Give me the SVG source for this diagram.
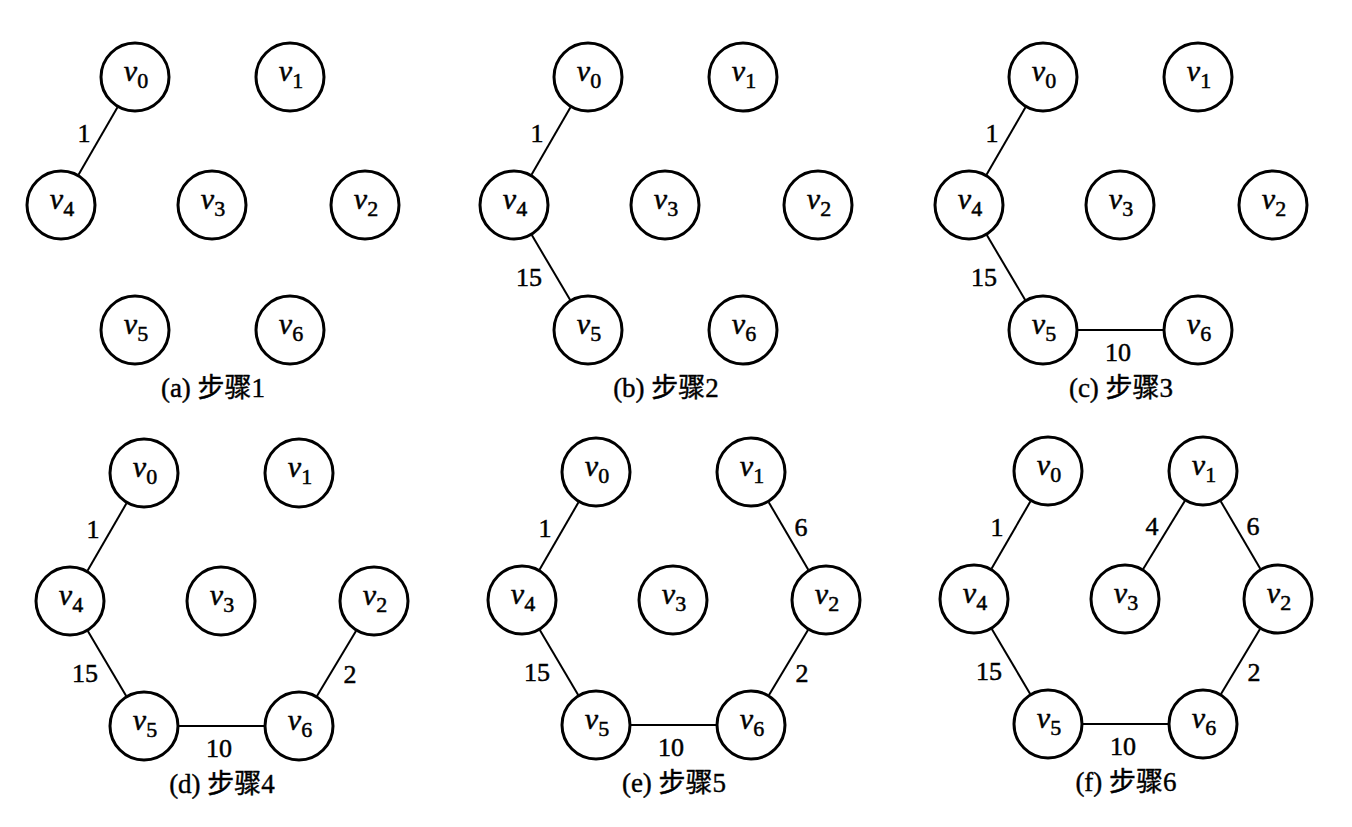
<svg xmlns="http://www.w3.org/2000/svg" width="1352" height="827" viewBox="0 0 1352 827">
<style>
.n circle{fill:#fff;stroke:#000;stroke-width:3}
.vl{font-family:"Liberation Serif","DejaVu Serif",serif;font-style:italic;font-size:30px;text-anchor:middle;fill:#000;stroke:#000;stroke-width:0.5}
.sub{font-style:normal;font-size:22px}
.e line{stroke:#000;stroke-width:2}
.w{font-family:"Liberation Serif","DejaVu Serif",serif;font-size:26px;text-anchor:middle;fill:#000;stroke:#000;stroke-width:0.5}
.cap{font-family:"Liberation Serif","Noto Sans CJK SC",serif;font-size:27px;text-anchor:middle;fill:#000;stroke:#000;stroke-width:0.4}
</style>
<rect width="1352" height="827" fill="#fff"/>

<!-- Panel a -->
<g id="panel-a" transform="translate(0,0)">
<g id="a-connectors" class="e">
<line x1="117.5" y1="107.3" x2="78.5" y2="174.7"/>
<text class="w" x="84" y="142">1</text>
</g>
<g id="a-v0" class="n"><circle cx="135" cy="77" r="34"/><text class="vl" x="136" y="81">v<tspan class="sub" dy="7">0</tspan></text></g>
<g id="a-v1" class="n"><circle cx="290" cy="77" r="34"/><text class="vl" x="291" y="81">v<tspan class="sub" dy="7">1</tspan></text></g>
<g id="a-v2" class="n"><circle cx="365" cy="205" r="34"/><text class="vl" x="366" y="209">v<tspan class="sub" dy="7">2</tspan></text></g>
<g id="a-v3" class="n"><circle cx="212" cy="205" r="34"/><text class="vl" x="213" y="209">v<tspan class="sub" dy="7">3</tspan></text></g>
<g id="a-v4" class="n"><circle cx="61" cy="205" r="34"/><text class="vl" x="62" y="209">v<tspan class="sub" dy="7">4</tspan></text></g>
<g id="a-v5" class="n"><circle cx="135" cy="330" r="34"/><text class="vl" x="136" y="334">v<tspan class="sub" dy="7">5</tspan></text></g>
<g id="a-v6" class="n"><circle cx="290" cy="330" r="34"/><text class="vl" x="291" y="334">v<tspan class="sub" dy="7">6</tspan></text></g>
<text class="cap" x="213" y="397">(a) 步骤1</text>
</g>

<!-- Panel b -->
<g id="panel-b" transform="translate(453,0)">
<g id="b-connectors" class="e">
<line x1="117.5" y1="107.3" x2="78.5" y2="174.7"/>
<line x1="78.8" y1="235.1" x2="117.2" y2="299.9"/>
<text class="w" x="84" y="142">1</text>
<text class="w" x="76" y="286">15</text>
</g>
<g id="b-v0" class="n"><circle cx="135" cy="77" r="34"/><text class="vl" x="136" y="81">v<tspan class="sub" dy="7">0</tspan></text></g>
<g id="b-v1" class="n"><circle cx="290" cy="77" r="34"/><text class="vl" x="291" y="81">v<tspan class="sub" dy="7">1</tspan></text></g>
<g id="b-v2" class="n"><circle cx="365" cy="205" r="34"/><text class="vl" x="366" y="209">v<tspan class="sub" dy="7">2</tspan></text></g>
<g id="b-v3" class="n"><circle cx="212" cy="205" r="34"/><text class="vl" x="213" y="209">v<tspan class="sub" dy="7">3</tspan></text></g>
<g id="b-v4" class="n"><circle cx="61" cy="205" r="34"/><text class="vl" x="62" y="209">v<tspan class="sub" dy="7">4</tspan></text></g>
<g id="b-v5" class="n"><circle cx="135" cy="330" r="34"/><text class="vl" x="136" y="334">v<tspan class="sub" dy="7">5</tspan></text></g>
<g id="b-v6" class="n"><circle cx="290" cy="330" r="34"/><text class="vl" x="291" y="334">v<tspan class="sub" dy="7">6</tspan></text></g>
<text class="cap" x="213" y="397">(b) 步骤2</text>
</g>

<!-- Panel c -->
<g id="panel-c" transform="translate(908,0)">
<g id="c-connectors" class="e">
<line x1="117.5" y1="107.3" x2="78.5" y2="174.7"/>
<line x1="78.8" y1="235.1" x2="117.2" y2="299.9"/>
<line x1="169" y1="330" x2="256" y2="330"/>
<text class="w" x="84" y="142">1</text>
<text class="w" x="76" y="286">15</text>
<text class="w" x="210" y="361">10</text>
</g>
<g id="c-v0" class="n"><circle cx="135" cy="77" r="34"/><text class="vl" x="136" y="81">v<tspan class="sub" dy="7">0</tspan></text></g>
<g id="c-v1" class="n"><circle cx="290" cy="77" r="34"/><text class="vl" x="291" y="81">v<tspan class="sub" dy="7">1</tspan></text></g>
<g id="c-v2" class="n"><circle cx="365" cy="205" r="34"/><text class="vl" x="366" y="209">v<tspan class="sub" dy="7">2</tspan></text></g>
<g id="c-v3" class="n"><circle cx="212" cy="205" r="34"/><text class="vl" x="213" y="209">v<tspan class="sub" dy="7">3</tspan></text></g>
<g id="c-v4" class="n"><circle cx="61" cy="205" r="34"/><text class="vl" x="62" y="209">v<tspan class="sub" dy="7">4</tspan></text></g>
<g id="c-v5" class="n"><circle cx="135" cy="330" r="34"/><text class="vl" x="136" y="334">v<tspan class="sub" dy="7">5</tspan></text></g>
<g id="c-v6" class="n"><circle cx="290" cy="330" r="34"/><text class="vl" x="291" y="334">v<tspan class="sub" dy="7">6</tspan></text></g>
<text class="cap" x="213" y="397">(c) 步骤3</text>
</g>

<!-- Panel d -->
<g id="panel-d" transform="translate(9,396)">
<g id="d-connectors" class="e">
<line x1="117.5" y1="107.3" x2="78.5" y2="174.7"/>
<line x1="78.8" y1="235.1" x2="117.2" y2="299.9"/>
<line x1="169" y1="330" x2="256" y2="330"/>
<line x1="308" y1="300" x2="347" y2="235"/>
<text class="w" x="84" y="142">1</text>
<text class="w" x="76" y="286">15</text>
<text class="w" x="210" y="361">10</text>
<text class="w" x="341" y="287">2</text>
</g>
<g id="d-v0" class="n"><circle cx="135" cy="77" r="34"/><text class="vl" x="136" y="81">v<tspan class="sub" dy="7">0</tspan></text></g>
<g id="d-v1" class="n"><circle cx="290" cy="77" r="34"/><text class="vl" x="291" y="81">v<tspan class="sub" dy="7">1</tspan></text></g>
<g id="d-v2" class="n"><circle cx="365" cy="205" r="34"/><text class="vl" x="366" y="209">v<tspan class="sub" dy="7">2</tspan></text></g>
<g id="d-v3" class="n"><circle cx="212" cy="205" r="34"/><text class="vl" x="213" y="209">v<tspan class="sub" dy="7">3</tspan></text></g>
<g id="d-v4" class="n"><circle cx="61" cy="205" r="34"/><text class="vl" x="62" y="209">v<tspan class="sub" dy="7">4</tspan></text></g>
<g id="d-v5" class="n"><circle cx="135" cy="330" r="34"/><text class="vl" x="136" y="334">v<tspan class="sub" dy="7">5</tspan></text></g>
<g id="d-v6" class="n"><circle cx="290" cy="330" r="34"/><text class="vl" x="291" y="334">v<tspan class="sub" dy="7">6</tspan></text></g>
<text class="cap" x="213" y="397">(d) 步骤4</text>
</g>

<!-- Panel e -->
<g id="panel-e" transform="translate(461,395)">
<g id="e-connectors" class="e">
<line x1="117.5" y1="107.3" x2="78.5" y2="174.7"/>
<line x1="78.8" y1="235.1" x2="117.2" y2="299.9"/>
<line x1="169" y1="330" x2="256" y2="330"/>
<line x1="308" y1="300" x2="347" y2="235"/>
<line x1="347.3" y1="174.8" x2="307.7" y2="107.2"/>
<text class="w" x="84" y="142">1</text>
<text class="w" x="76" y="286">15</text>
<text class="w" x="210" y="361">10</text>
<text class="w" x="341" y="287">2</text>
<text class="w" x="340" y="141">6</text>
</g>
<g id="e-v0" class="n"><circle cx="135" cy="77" r="34"/><text class="vl" x="136" y="81">v<tspan class="sub" dy="7">0</tspan></text></g>
<g id="e-v1" class="n"><circle cx="290" cy="77" r="34"/><text class="vl" x="291" y="81">v<tspan class="sub" dy="7">1</tspan></text></g>
<g id="e-v2" class="n"><circle cx="365" cy="205" r="34"/><text class="vl" x="366" y="209">v<tspan class="sub" dy="7">2</tspan></text></g>
<g id="e-v3" class="n"><circle cx="212" cy="205" r="34"/><text class="vl" x="213" y="209">v<tspan class="sub" dy="7">3</tspan></text></g>
<g id="e-v4" class="n"><circle cx="61" cy="205" r="34"/><text class="vl" x="62" y="209">v<tspan class="sub" dy="7">4</tspan></text></g>
<g id="e-v5" class="n"><circle cx="135" cy="330" r="34"/><text class="vl" x="136" y="334">v<tspan class="sub" dy="7">5</tspan></text></g>
<g id="e-v6" class="n"><circle cx="290" cy="330" r="34"/><text class="vl" x="291" y="334">v<tspan class="sub" dy="7">6</tspan></text></g>
<text class="cap" x="213" y="397">(e) 步骤5</text>
</g>

<!-- Panel f -->
<g id="panel-f" transform="translate(913,394)">
<g id="f-connectors" class="e">
<line x1="117.5" y1="107.3" x2="78.5" y2="174.7"/>
<line x1="78.8" y1="235.1" x2="117.2" y2="299.9"/>
<line x1="169" y1="330" x2="256" y2="330"/>
<line x1="308" y1="300" x2="347" y2="235"/>
<line x1="347.3" y1="174.8" x2="307.7" y2="107.2"/>
<line x1="271.8" y1="106.9" x2="230.2" y2="175.1"/>
<text class="w" x="84" y="142">1</text>
<text class="w" x="76" y="286">15</text>
<text class="w" x="210" y="361">10</text>
<text class="w" x="341" y="287">2</text>
<text class="w" x="340" y="141">6</text>
<text class="w" x="239" y="141">4</text>
</g>
<g id="f-v0" class="n"><circle cx="135" cy="77" r="34"/><text class="vl" x="136" y="81">v<tspan class="sub" dy="7">0</tspan></text></g>
<g id="f-v1" class="n"><circle cx="290" cy="77" r="34"/><text class="vl" x="291" y="81">v<tspan class="sub" dy="7">1</tspan></text></g>
<g id="f-v2" class="n"><circle cx="365" cy="205" r="34"/><text class="vl" x="366" y="209">v<tspan class="sub" dy="7">2</tspan></text></g>
<g id="f-v3" class="n"><circle cx="212" cy="205" r="34"/><text class="vl" x="213" y="209">v<tspan class="sub" dy="7">3</tspan></text></g>
<g id="f-v4" class="n"><circle cx="61" cy="205" r="34"/><text class="vl" x="62" y="209">v<tspan class="sub" dy="7">4</tspan></text></g>
<g id="f-v5" class="n"><circle cx="135" cy="330" r="34"/><text class="vl" x="136" y="334">v<tspan class="sub" dy="7">5</tspan></text></g>
<g id="f-v6" class="n"><circle cx="290" cy="330" r="34"/><text class="vl" x="291" y="334">v<tspan class="sub" dy="7">6</tspan></text></g>
<text class="cap" x="213" y="397">(f) 步骤6</text>
</g>
</svg>
